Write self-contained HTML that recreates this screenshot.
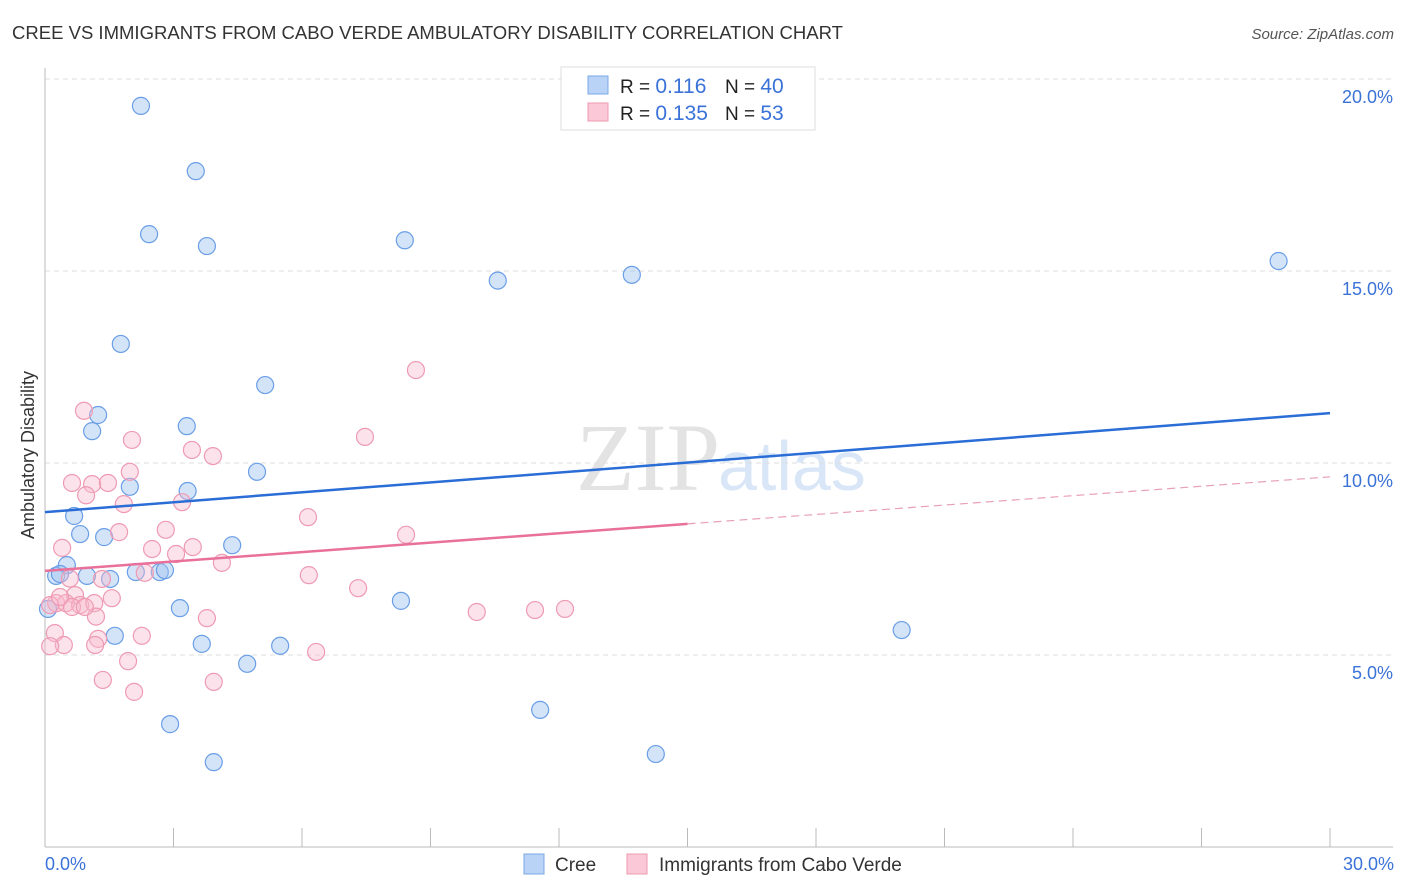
<!DOCTYPE html>
<html><head><meta charset="utf-8">
<style>
body{margin:0;background:#fff;font-family:"Liberation Sans",sans-serif;}
svg{display:block}
</style></head>
<body>
<svg id="chart" width="1406" height="892" viewBox="0 0 1406 892">
<text x="12" y="39" font-size="18" fill="#333" textLength="831" lengthAdjust="spacingAndGlyphs">CREE VS IMMIGRANTS FROM CABO VERDE AMBULATORY DISABILITY CORRELATION CHART</text>
<text x="1394" y="39" font-size="15" fill="#555" font-style="italic" text-anchor="end">Source: ZipAtlas.com</text>
<text x="720" y="490" font-size="96" fill="#e3e3e3" text-anchor="end" font-family="Liberation Serif,serif">ZIP</text>
<text x="718" y="490" font-size="70" fill="#d8e6f7">atlas</text>
<g id="grid"></g>
<g id="axes"></g>
<g id="marks"></g>
<text transform="translate(34,455) rotate(-90)" font-size="18" fill="#333" text-anchor="middle">Ambulatory Disability</text>
<text x="45" y="870" font-size="18" fill="#3a72d8">0.0%</text>
<text x="1394" y="870" font-size="18" fill="#3a72d8" text-anchor="end">30.0%</text>
<g>
<rect x="561" y="67" width="254" height="63" fill="#fff" stroke="#ddd"/>
<rect x="588" y="76" width="20" height="18" fill="#b8d3f5" stroke="#7aa7e8"/>
<rect x="588" y="103" width="20" height="18" fill="#fac8d6" stroke="#ee9ab3"/>
<text x="620" y="93" font-size="19" fill="#222">R = <tspan fill="#3a72d8" font-size="21">0.116</tspan><tspan x="725">N = </tspan><tspan fill="#3a72d8" font-size="21">40</tspan></text>
<text x="620" y="120" font-size="19" fill="#222">R = <tspan fill="#3a72d8" font-size="21">0.135</tspan><tspan x="725">N = </tspan><tspan fill="#3a72d8" font-size="21"> 53</tspan></text>
</g>
<g>
<rect x="524" y="854" width="20" height="20" fill="#b8d3f5" stroke="#7aa7e8"/>
<text x="555" y="871" font-size="19" fill="#333">Cree</text>
<rect x="627" y="854" width="20" height="20" fill="#fac8d6" stroke="#ee9ab3"/>
<text x="659" y="871" font-size="19" fill="#333">Immigrants from Cabo Verde</text>
</g>
</svg>
<script>
const yTicks=[5,10,15,20];
const yTickLabels=["5.0%","10.0%","15.0%","20.0%"];
const xTicks=[3,6,9,12,15,18,21,24,27,30];
const creeX=[2.24,3.52,2.43,3.78,8.4,10.57,13.7,28.8,1.77,5.14,1.24,1.1,3.31,4.95,1.98,3.33,0.68,0.82,1.38,4.37,0.51,0.26,0.35,0.98,1.52,2.12,2.68,2.8,3.15,8.31,1.63,3.66,5.49,4.72,20.0,11.56,2.92,14.26,3.94,0.07];
const creeY=[19.3,17.6,15.96,15.65,15.8,14.75,14.9,15.26,13.1,12.03,11.25,10.83,10.96,9.77,9.38,9.27,8.62,8.15,8.07,7.86,7.34,7.06,7.11,7.06,6.98,7.16,7.16,7.21,6.22,6.41,5.5,5.29,5.24,4.77,5.65,3.57,3.2,2.42,2.21,6.2];
const caboX=[0.91,8.66,2.03,7.47,3.43,3.92,0.63,1.1,1.47,0.96,1.98,1.84,3.2,6.14,1.73,2.82,0.4,2.5,3.45,3.06,8.43,4.13,6.16,2.33,0.58,1.33,7.31,1.56,0.7,0.26,0.49,0.82,1.15,0.12,1.19,3.78,10.08,11.44,12.14,0.23,1.24,2.26,0.44,0.12,1.17,6.33,1.94,1.35,3.94,2.08,0.63,0.35,0.93];
const caboY=[11.36,12.42,10.6,10.68,10.34,10.18,9.48,9.45,9.48,9.16,9.77,8.93,8.98,8.59,8.2,8.26,7.79,7.76,7.81,7.63,8.13,7.4,7.08,7.14,6.99,6.98,6.74,6.48,6.56,6.35,6.35,6.3,6.35,6.3,6.0,5.96,6.12,6.17,6.2,5.57,5.42,5.5,5.26,5.23,5.26,5.08,4.84,4.35,4.3,4.04,6.25,6.51,6.25];
const creeTrend=[8.72,11.3];
const caboTrend=[7.19,9.64];
const X=v=>45+v/30*1285, Y=v=>847-v/5*192;
const NS="http://www.w3.org/2000/svg";
function mk(tag,attrs,parent){const e=document.createElementNS(NS,tag);for(const k in attrs)e.setAttribute(k,attrs[k]);document.getElementById(parent).appendChild(e);return e;}
yTicks.forEach((t,i)=>{
  const g=mk('line',{x1:45,x2:1393,y1:Y(t),y2:Y(t),stroke:'#ddd','stroke-dasharray':'5,4'},'grid');
  
  
  const l=mk('text',{x:1393,y:Y(t)+24,'font-size':18,fill:'#3a72d8','text-anchor':'end'},'grid');
  l.textContent=yTickLabels[i];
  
  
});
const ax=mk('line',{x1:45,x2:45,y1:68,y2:847,stroke:'#bbb'},'axes');


const bx=mk('line',{x1:45,x2:1393,y1:847,y2:847,stroke:'#bbb'},'axes');


xTicks.forEach(t=>{
  const k=mk('line',{x1:X(t),x2:X(t),y1:828,y2:847,stroke:'#bbb'},'axes');
  
  
});
creeX.forEach((v,i)=>{
  const c=mk('circle',{cx:X(v),cy:Y(creeY[i]),r:8.5,fill:'rgba(160,196,240,0.45)',stroke:'#6a9ee6','stroke-width':1.2},'marks');
  
  
});
caboX.forEach((v,i)=>{
  const c=mk('circle',{cx:X(v),cy:Y(caboY[i]),r:8.5,fill:'rgba(248,184,204,0.4)',stroke:'#ee9ab3','stroke-width':1.2},'marks');
  
  
});
const bt=mk('line',{x1:X(0),y1:Y(creeTrend[0]),x2:X(30),y2:Y(creeTrend[1]),stroke:'#2a6dd6','stroke-width':2.5},'marks');


const pm=caboTrend[0]+(caboTrend[1]-caboTrend[0])*0.5;
const pt=mk('line',{x1:X(0),y1:Y(caboTrend[0]),x2:X(15),y2:Y(pm),stroke:'#e8709a','stroke-width':2.5},'marks');


const pd=mk('line',{x1:X(15),y1:Y(pm),x2:X(30),y2:Y(caboTrend[1]),stroke:'#e8a0b8','stroke-width':1.2,'stroke-dasharray':'8,5'},'marks');


</script>
</body></html>
